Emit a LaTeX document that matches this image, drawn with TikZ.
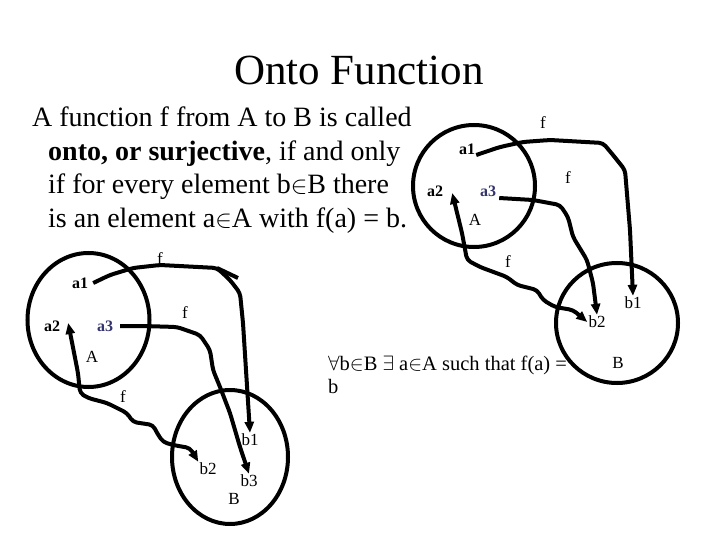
\documentclass[tikz,border=0pt]{standalone}
\usepackage{fontspec}
\setmainfont{Liberation Serif}
\usetikzlibrary{arrows.meta,shapes.geometric}
\definecolor{elemblue}{RGB}{51,51,110}

\begin{document}
\begin{tikzpicture}[x=1pt, y=-1pt,
  every node/.style={inner sep=1pt},
  ttl/.style  ={anchor=base, font=\fontsize{43}{48}\selectfont},
  txt/.style  ={anchor=base west, inner sep=0pt, font=\fontsize{28}{33}\selectfont},
  stm/.style  ={anchor=base west, inner sep=0pt, font=\fontsize{20.5}{23}\selectfont},
  elem/.style ={font=\fontsize{16}{16}\selectfont\bfseries},
  lab/.style  ={font=\fontsize{17}{17}\selectfont},
  setc/.style ={draw, ellipse, line width=4pt, inner sep=0pt},
  fmap/.style ={-{Triangle[length=11pt,width=9pt]}, line width=4pt, rounded corners=4pt, line join=round},
  fboth/.style={fmap, {Triangle[length=11pt,width=9pt]}-{Triangle[length=11pt,width=9pt]}},
]
\useasboundingbox (0,0) rectangle (720,540);

\node[ttl] (title) at (359,85) {Onto Function};

\node[txt] (txt1) at (32,127)  {A function f from A to B is called};
\node[txt] (txt2) at (48,161)  {\textbf{onto, or surjective}, if and only};
\node[txt] (txt3) at (48,194)  {if for every element b$\in$B there};
\node[txt] (txt4) at (48,228)  {is an element a$\in$A with f(a) = b.};

\node[stm] (st1) at (328,370) {$\forall$b$\in$B $\exists$ a$\in$A such that f(a) =};
\node[stm] (st2) at (328,393) {b};

% upper picture
\node[setc, minimum width=122pt, minimum height=122pt] (usetA) at (474,186) {};
\node[setc, minimum width=122pt, minimum height=120pt] (usetB) at (617,323) {};
\node[elem] (ua1) at (467,149) {a1};
\node[elem] (ua2) at (435,191) {a2};
\node[elem, text=elemblue] (ua3) at (488,191) {a3};
\node[lab] (uA)  at (475,220) {A};
\node[lab] (ub1) at (633,303) {b1};
\node[lab] (ub2) at (597,322) {b2};
\node[lab] (uB)  at (618,363) {B};
\node[lab] (uf1) at (543,123) {f};
\node[lab] (uf2) at (568,178) {f};
\node[lab] (uf3) at (508,262) {f};

\draw[fmap] ([yshift=-6pt]ua1.east) -- (500,147) -- (523,142) -- (550,140) -- (603,143) -- (613,155) -- (625,170) -- (630,230) -- (ub1.north);
\draw[fmap] ([xshift=2pt,yshift=-7pt]ua3.east) -- (533,200) -- (560,205) -- (568,217) -- (573,237) -- (587,260) -- (593,283) -- (ub2.north);
\draw[fboth] ([xshift=8pt,yshift=-2pt]ua2.east) -- (462,233) -- (467,260) -- (480,267) -- (507,277) -- (517,285) -- (537,290) -- (543,300) -- (555,307) -- (573,310) -- (ub2.west);

% lower picture
\node[setc, minimum width=122pt, minimum height=134pt] (lsetA) at (88.5,320) {};
\node[setc, minimum width=116pt, minimum height=134pt] (lsetB) at (230,457) {};
\node[elem] (la1) at (80,283) {a1};
\node[elem] (la2) at (52,326) {a2};
\node[elem, text=elemblue] (la3) at (105,326) {a3};
\node[lab] (lA)  at (92,357)  {A};
\node[lab] (lb1) at (250,440) {b1};
\node[lab] (lb2) at (208,469) {b2};
\node[lab] (lb3) at (249,481) {b3};
\node[lab] (lB)  at (234,499) {B};
\node[lab] (lf1) at (160,259) {f};
\node[lab] (lf2) at (185,313) {f};
\node[lab] (lf3) at (123,397) {f};

\coordinate (kink) at (217,268);
\draw[fmap] ([xshift=4pt]la1.east) -- (110,275) -- (133,268) -- (160,265) -- (kink) -- (230,280) -- (240,293) -- (243,323) -- (lb1.north);
\draw[line width=4pt] (kink) -- +(21,10);
\draw[fmap] ([xshift=6pt]la3.east) -- (143,326) -- (177,327) -- (200,335) -- (210,350) -- (213,370) -- (220,387) -- (230,413) -- (240,447) -- (lb3.north);
\draw[fboth] ([xshift=7pt,yshift=3pt]la2.east) -- (78,373) -- (80,393) -- (88,398) -- (107,403) -- (127,413) -- (133,422) -- (153,425) -- (157,433) -- (163,442) -- (173,445) -- (190,448) -- (lb2.north west);

\end{tikzpicture}
\end{document}
